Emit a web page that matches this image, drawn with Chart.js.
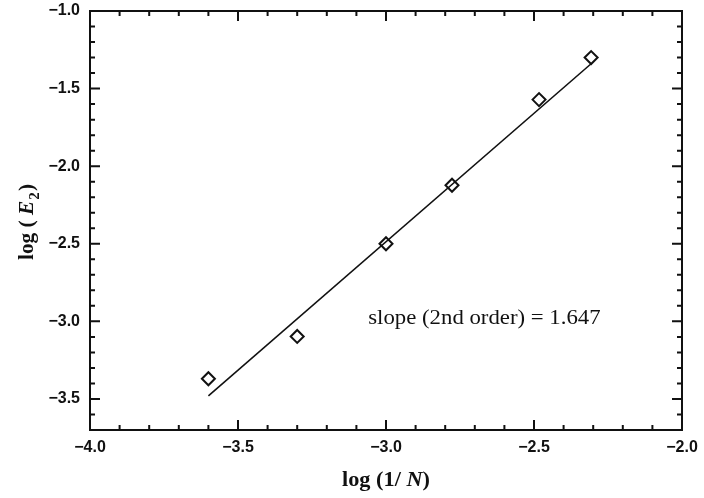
<!DOCTYPE html>
<html><head><meta charset="utf-8">
<script src="https://cdn.jsdelivr.net/npm/chart.js@4.4.1/dist/chart.umd.min.js"></script>
<style>html,body{margin:0;padding:0;background:#fff;}#wrap{width:704px;height:498px;}</style>
</head><body><div id="wrap"><canvas id="c" width="704" height="498"></canvas></div>
<script>
const logInvN = [-3.60, -3.30, -3.00, -2.777, -2.483, -2.307];
const logE2   = [-3.37, -3.097, -2.50, -2.123, -1.571, -1.30];
const fitX = [-3.60, -2.307];
const fitY = [-3.48, -1.34];
const xTicks = [-4.0, -3.5, -3.0, -2.5, -2.0];
const yTicks = [-3.5, -3.0, -2.5, -2.0, -1.5, -1.0];
const xMinor = [-3.9,-3.8,-3.7,-3.6,-3.4,-3.3,-3.2,-3.1,-2.9,-2.8,-2.7,-2.6,-2.4,-2.3,-2.2,-2.1];
const yMinor = [-3.6,-3.4,-3.3,-3.2,-3.1,-2.9,-2.8,-2.7,-2.6,-2.4,-2.3,-2.2,-2.1,-1.9,-1.8,-1.7,-1.6,-1.4,-1.3,-1.2,-1.1];
const slopeText = "slope (2nd order) = 1.647";

const fmt = v => (v < 0 ? "\u2212" : "") + Math.abs(v).toFixed(1);

function drawRuns(ctx, runs, x, y, targetW, center) {
  let total = 0;
  runs.forEach(r => { ctx.font = r[1]; r.w = ctx.measureText(r[0]).width + (r[3] || 0); total += r.w; });
  const sx = targetW ? targetW / total : 1;
  ctx.save();
  ctx.translate(x - (center ? (total * sx) / 2 : 0), y);
  ctx.scale(sx, 1);
  let s = 0;
  runs.forEach(r => { ctx.font = r[1]; ctx.fillText(r[0], s, r[2] || 0); s += r.w; });
  ctx.restore();
}

const deco = {
  id: 'deco',
  afterDraw(chart) {
    const ctx = chart.ctx, a = chart.chartArea, xs = chart.scales.x, ys = chart.scales.y;
    ctx.save();
    ctx.strokeStyle = '#111'; ctx.lineWidth = 2;
    ctx.strokeRect(a.left, a.top, a.right - a.left, a.bottom - a.top);
    const tick = (px, len, horiz) => {
      ctx.beginPath();
      if (horiz) {
        ctx.moveTo(px, a.bottom); ctx.lineTo(px, a.bottom - len);
        ctx.moveTo(px, a.top); ctx.lineTo(px, a.top + len);
      } else {
        ctx.moveTo(a.left, px); ctx.lineTo(a.left + len, px);
        ctx.moveTo(a.right, px); ctx.lineTo(a.right - len, px);
      }
      ctx.stroke();
    };
    xTicks.forEach(v => tick(xs.getPixelForValue(v), 10, true));
    xMinor.forEach(v => tick(xs.getPixelForValue(v), 5, true));
    yTicks.forEach(v => tick(ys.getPixelForValue(v), 10, false));
    yMinor.forEach(v => tick(ys.getPixelForValue(v), 5, false));

    ctx.fillStyle = '#111';
    ctx.textAlign = 'left'; ctx.textBaseline = 'alphabetic';
    const sx0 = xs.getPixelForValue(-3.06), sx1 = xs.getPixelForValue(-2.275);
    drawRuns(ctx, [[slopeText, '20px "Liberation Serif"']], sx0, ys.getPixelForValue(-3.02), sx1 - sx0, false);

    const B = 'bold 20px "Liberation Serif"', BI = 'bold italic 20px "Liberation Serif"';
    drawRuns(ctx, [['log (1/ ', B], ['N', BI], [')', B]], (a.left + a.right) / 2, 486, 88, true);

    ctx.save();
    ctx.translate(33, 222);
    ctx.rotate(-Math.PI / 2);
    drawRuns(ctx, [['log ( ', B], ['E', BI, 0, 1], ['2', 'bold 14px "Liberation Serif"', 6, 1], [')', B]], 0, 0, 76, true);
    ctx.restore();
    ctx.restore();
  }
};

new Chart(document.getElementById('c'), {
  type: 'scatter',
  data: {
    datasets: [
      { label: 'fit', type: 'line', data: fitX.map((x, i) => ({x, y: fitY[i]})),
        borderColor: '#111', borderWidth: 1.6, pointRadius: 0, fill: false, showLine: true },
      { label: 'data', data: logInvN.map((x, i) => ({x, y: logE2[i]})),
        pointStyle: 'rectRot', pointRadius: 6.5, pointHoverRadius: 6.5, borderWidth: 2,
        borderColor: '#111', backgroundColor: 'rgba(255,255,255,1)' }
    ]
  },
  options: {
    responsive: false, animation: false, devicePixelRatio: 1,
    layout: { padding: { left: 0, top: 11, right: 22, bottom: 0 } },
    plugins: { legend: { display: false }, tooltip: { enabled: false } },
    scales: {
      x: { type: 'linear', min: -4.0, max: -2.0,
        afterBuildTicks: s => { s.ticks = xTicks.map(v => ({value: v})); },
        afterFit: s => { s.height = 68; s.paddingLeft = 0; s.paddingRight = 0; },
        grid: { display: false, drawTicks: false }, border: { display: false },
        ticks: { callback: v => fmt(v), color: '#111', padding: 8, maxRotation: 0,
          font: { family: 'Liberation Sans', weight: 'bold', size: 16 } } },
      y: { type: 'linear', min: -3.7, max: -1.0,
        afterBuildTicks: s => { s.ticks = yTicks.map(v => ({value: v})); },
        afterFit: s => { s.width = 90; s.paddingTop = 0; s.paddingBottom = 0; },
        grid: { display: false, drawTicks: false }, border: { display: false },
        ticks: { callback: v => fmt(v), color: '#111', padding: 10,
          font: { family: 'Liberation Sans', weight: 'bold', size: 16 } } }
    }
  },
  plugins: [deco]
});
</script></body></html>
